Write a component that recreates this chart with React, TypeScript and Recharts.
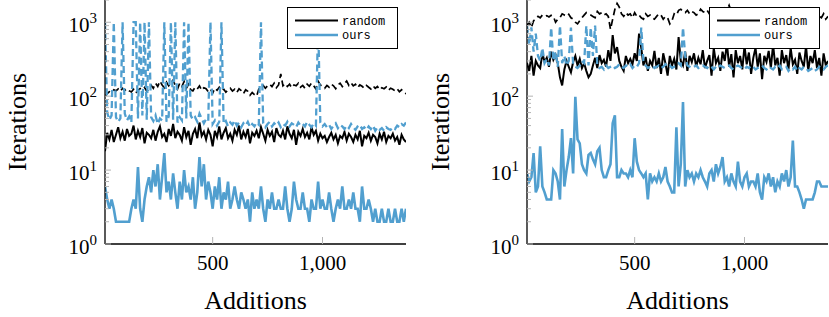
import React from 'react';
import { LineChart, Line, XAxis, YAxis, Legend } from 'recharts';

const additions = [
    10, 20, 30, 40, 50, 60, 70, 80, 90, 100,
    110, 120, 130, 140, 150, 160, 170, 180, 190, 200,
    210, 220, 230, 240, 250, 260, 270, 280, 290, 300,
    310, 320, 330, 340, 350, 360, 370, 380, 390, 400,
    410, 420, 430, 440, 450, 460, 470, 480, 490, 500,
    510, 520, 530, 540, 550, 560, 570, 580, 590, 600,
    610, 620, 630, 640, 650, 660, 670, 680, 690, 700,
    710, 720, 730, 740, 750, 760, 770, 780, 790, 800,
    810, 820, 830, 840, 850, 860, 870, 880, 890, 900,
    910, 920, 930, 940, 950, 960, 970, 980, 990, 1000,
    1010, 1020, 1030, 1040, 1050, 1060, 1070, 1080, 1090, 1100,
    1110, 1120, 1130, 1140, 1150, 1160, 1170, 1180, 1190, 1200,
    1210, 1220, 1230, 1240, 1250, 1260, 1270, 1280, 1290, 1300,
    1310, 1320, 1330, 1340, 1350, 1360, 1370, 1380
];

// left plot
const leftRandom = [
    18, 32, 26, 35, 24, 30, 38, 27, 33, 25,
    36, 29, 31, 40, 26, 34, 28, 37, 23, 32,
    30, 27, 35, 25, 33, 39, 28, 31, 24, 36,
    29, 42, 27, 33, 30, 25, 38, 28, 34, 22,
    31, 36, 27, 44, 29, 33, 26, 35, 30, 21,
    34, 28, 39, 26, 32, 37, 27, 31, 25, 35,
    30, 40, 26, 33, 28, 36, 23, 32, 29, 34,
    27, 38, 31, 25, 35, 29, 33, 24, 37, 30,
    28, 34, 26, 39, 31, 27, 35, 22, 33, 29,
    36, 28, 32, 26, 38, 30, 34, 25, 31, 27,
    29, 24, 28, 32, 26, 30, 23, 29, 27, 33,
    25, 31, 28, 24, 30, 26, 34, 21, 29, 27,
    32, 25, 30, 28, 23, 31, 26, 33, 24, 29,
    27, 31, 25, 28, 22, 30, 26, 24
];
const leftRandomMax = [
    100, 108, 115, 112, 122, 118, 125, 116, 128, 120,
    126, 118, 114, 124, 110, 120, 127, 122, 131, 117,
    125, 140, 128, 150, 135, 160, 142, 130, 155, 138,
    148, 165, 140, 125, 150, 135, 158, 128, 145, 122,
    118, 132, 125, 138, 120, 130, 126, 115, 124, 110,
    128, 120, 132, 118, 125, 113, 122, 128, 117, 124,
    112, 126, 119, 108, 122, 116, 103, 112, 105, 100,
    125, 132, 140, 128, 138, 145, 135, 150, 130, 142,
    200, 138, 148, 135, 145, 130, 142, 138, 150, 132,
    140, 128, 145, 136, 150, 138, 125, 160, 142, 135,
    128, 140, 132, 145, 138, 126, 142, 150, 135, 148,
    160, 140, 152, 138, 145, 130, 142, 136, 128, 140,
    132, 125, 138, 128, 135, 122, 130, 126, 133, 120,
    128, 124, 118, 126, 115, 122, 112, 108
];
const leftOurs = [
    6, 4, 3, 4, 3, 2, 2, 2, 2, 2,
    2, 2, 3, 4, 3, 11, 3, 2, 4, 6,
    8, 5, 10, 6, 12, 4, 8, 17, 5, 7,
    4, 9, 5, 3, 7, 4, 10, 5, 6, 4,
    8, 3, 5, 15, 6, 12, 4, 7, 5, 3,
    6, 4, 8, 3, 5, 4, 7, 3, 4, 6,
    4, 3, 5, 4, 3, 4, 2, 5, 3, 4,
    3, 6, 3, 2, 4, 3, 5, 3, 3, 4,
    3, 3, 6, 3, 2, 3, 7, 4, 3, 3,
    5, 3, 3, 2, 4, 3, 3, 7, 3, 4,
    3, 3, 5, 3, 2, 3, 4, 3, 6, 3,
    3, 4, 3, 5, 3, 3, 2, 6, 3, 3,
    4, 3, 2, 3, 2, 2, 3, 2, 2, 3,
    2, 2, 3, 2, 2, 3, 2, 3
];
const leftOursMax = [
    1000, 60, 48, 55, 1000, 52, 45, 50, 1000, 58,
    47, 53, 44, 1000, 1000, 50, 1000, 55, 1000, 48,
    1000, 52, 46, 55, 42, 50, 47, 1000, 45, 53,
    1000, 48, 1000, 44, 52, 47, 1000, 50, 1000, 55,
    48, 52, 45, 58, 50, 43, 49, 46, 1000, 42,
    47, 40, 45, 1000, 42, 46, 39, 44, 41, 47,
    40, 44, 38, 43, 40, 45, 38, 42, 39, 44,
    41, 1000, 43, 38, 42, 45, 39, 43, 40, 44,
    38, 42, 40, 45, 39, 43, 41, 38, 44, 40,
    42, 39, 45, 41, 38, 43, 40, 1000, 44, 39,
    42, 38, 41, 36, 40, 43, 37, 41, 39, 36,
    40, 37, 42, 38, 35, 39, 41, 36, 38, 35,
    39, 36, 40, 34, 38, 35, 37, 34, 38, 36,
    35, 38, 36, 40, 38, 42, 40, 44
];

// right plot
const rightRandom = [
    280, 220, 350, 190, 300, 260, 240, 380, 290, 330,
    250, 400, 310, 360, 280, 180, 140, 230, 300, 250,
    210, 290, 350, 260, 320, 240, 280, 220, 180, 200,
    260, 330, 240, 360, 280, 310, 250, 420, 300, 670,
    380, 460, 300, 250, 220, 350, 280, 320, 270, 380,
    300, 700, 450, 260, 340, 220, 300, 260, 410, 240,
    330, 200, 380, 280, 190, 350, 260, 320, 230, 630,
    300, 260, 400, 220, 350, 290, 380, 250, 330, 270,
    420, 240, 300, 360, 190, 450, 280, 330, 220, 400,
    300, 520, 250, 370, 180, 420, 280, 350, 230, 480,
    270, 390, 200, 330, 450, 250, 380, 170, 350, 290,
    410, 240, 500, 260, 330, 190, 420, 280, 360, 230,
    450, 270, 310, 200, 390, 300, 250, 480, 220, 350,
    280, 420, 240, 330, 190, 380, 260, 300
];
const rightRandomMax = [
    900, 1000, 850, 1050, 1100, 1200, 1150, 1250, 1200, 1230,
    1180, 1240, 1200, 1000, 1100, 1150, 1300, 1250, 1200, 1280,
    1150, 1100, 1000, 950, 1050, 1150, 1250, 1350, 1300, 1250,
    1200, 1150, 1400, 1300, 1350, 1250, 1300, 1200, 800, 1100,
    1500, 1800, 1600, 1300, 1200, 1350, 1250, 1300, 1150, 1350,
    1200, 1250, 1150, 1100, 1300, 1200, 1250, 1150, 1100, 1200,
    1300, 1250, 1100, 1200, 1150, 950, 1050, 1300, 1250, 1450,
    1500, 1400, 1350, 1450, 1300, 1400, 1350, 1250, 1300, 1500,
    1400, 1350, 1450, 1300, 1400, 1350, 1450, 1500, 1400, 1350,
    1550, 1450, 1700, 1400, 1350, 1300, 1400, 1250, 1350, 1300,
    1250, 1400, 1300, 1200, 1350, 1250, 1300, 1200, 1350, 1250,
    1300, 1200, 1250, 1150, 1300, 1200, 1250, 1150, 1200, 1300,
    1250, 1150, 1300, 1200, 1100, 1250, 1200, 1150, 1300, 1200,
    1150, 1250, 1100, 1200, 1150, 1300, 1100, 1200
];
const rightOurs = [
    9, 7, 8, 17, 5, 6, 21, 6, 5, 4,
    4, 4, 10, 9, 7, 4, 36, 6, 10, 15,
    27, 9, 98, 26, 23, 12, 10, 9, 16, 17,
    14, 12, 18, 20, 10, 8, 8, 10, 12, 43,
    55, 8, 8, 10, 9, 9, 8, 10, 8, 27,
    13, 10, 9, 8, 9, 4, 9, 7, 8, 7,
    9, 7, 8, 11, 7, 6, 5, 5, 38, 6,
    12, 83, 6, 10, 8, 9, 7, 9, 8, 10,
    8, 7, 6, 9, 10, 7, 12, 9, 11, 15,
    7, 8, 6, 9, 7, 6, 13, 7, 6, 8,
    9, 6, 7, 7, 6, 9, 5, 4, 8, 7,
    9, 6, 8, 5, 7, 6, 9, 7, 10, 6,
    8, 25, 6, 6, 5, 4, 3, 4, 4, 4,
    4, 5, 7, 7, 6, 6, 6, 6
];
const rightOursMax = [
    900, 500, 850, 400, 700, 350, 300, 450, 280, 320,
    260, 850, 300, 400, 250, 900, 280, 350, 260, 300,
    850, 270, 250, 240, 260, 300, 280, 900, 260, 850,
    350, 900, 260, 240, 250, 230, 260, 240, 250, 260,
    240, 250, 270, 250, 240, 260, 250, 270, 240, 260,
    250, 280, 850, 300, 260, 240, 250, 260, 240, 250,
    260, 240, 250, 270, 250, 260, 240, 250, 260, 280,
    260, 850, 350, 260, 250, 240, 250, 260, 240, 250,
    260, 250, 240, 260, 250, 230, 250, 240, 260, 250,
    240, 250, 260, 240, 230, 250, 260, 250, 240, 230,
    250, 240, 260, 250, 230, 240, 250, 260, 240, 230,
    250, 240, 230, 250, 240, 260, 230, 240, 250, 220,
    240, 230, 250, 220, 240, 230, 250, 240, 220, 230,
    240, 220, 230, 250, 240, 230, 250, 260
];

const xTicks = [500, 1000];
const yTicks = [
    1, 2, 3, 4, 5, 6, 7, 8, 9,
    10, 20, 30, 40, 50, 60, 70, 80, 90,
    100, 200, 300, 400, 500, 600, 700, 800, 900,
    1000, 2000
];

const BLUE = '#519fcf';
const TICK_GRAY = '#b4b4b4';
const SERIF = '"Liberation Serif", "Times New Roman", serif';
const MONO = '"Liberation Mono", "DejaVu Sans Mono", monospace';

const buildRows = (rs: number[], rd: number[], os: number[], od: number[]) =>
    additions.map((x, i) => ({ x, rs: rs[i], rd: rd[i], os: os[i], od: od[i] }));

const leftRows = buildRows(leftRandom, leftRandomMax, leftOurs, leftOursMax);
const rightRows = buildRows(rightRandom, rightRandomMax, rightOurs, rightOursMax);

const isDecade = (v: number) => Math.abs(Math.log10(v) - Math.round(Math.log10(v))) < 1e-9;

const LeftTick = (props: any) => {
    const { x, y, payload } = props;
    const v = payload.value;
    const major = isDecade(v);
    return (
        <g>
            <line x1={x} x2={x + (major ? 6 : 4)} y1={y} y2={y} stroke={TICK_GRAY} strokeWidth={1} />
            {major && (
                <text x={x - 8} y={y + 10} textAnchor="end" fontFamily={SERIF} fontSize={21} fill="#000">
                    10<tspan dy={-9} fontSize={15}>{Math.round(Math.log10(v))}</tspan>
                </text>
            )}
        </g>
    );
};

const RightTick = (props: any) => {
    const { x, y, payload } = props;
    const major = isDecade(payload.value);
    return <line x1={x} x2={x - (major ? 6 : 4)} y1={y} y2={y} stroke={TICK_GRAY} strokeWidth={1} />;
};

const BottomTick = (props: any) => {
    const { x, y, payload } = props;
    return (
        <g>
            <line x1={x} x2={x} y1={y} y2={y - 7} stroke={TICK_GRAY} strokeWidth={1} />
            <text x={x} y={y + 26} textAnchor="middle" fontFamily={SERIF} fontSize={21} fill="#000">
                {payload.value.toLocaleString('en-US')}
            </text>
        </g>
    );
};

const TopTick = (props: any) => {
    const { x, y } = props;
    return <line x1={x} x2={x} y1={y} y2={y + 7} stroke={TICK_GRAY} strokeWidth={1} />;
};

const LegendBox = () => (
    <svg width={111} height={42} style={{ display: 'block' }}>
        <rect x={0.5} y={0.5} width={110} height={41} fill="#fff" stroke="#000" strokeWidth={1} />
        <line x1={8} x2={51} y1={13.5} y2={13.5} stroke="#000" strokeWidth={2} />
        <text x={55} y={17.5} fontFamily={MONO} fontSize={12} fill="#000">random</text>
        <line x1={8} x2={51} y1={28} y2={28} stroke={BLUE} strokeWidth={2.6} />
        <text x={55} y={32} fontFamily={MONO} fontSize={12} fill="#000">ours</text>
    </svg>
);

interface PanelProps {
    rows: any[];
    width: number;
    yAxisWidth: number;
    rightMargin: number;
    labelOffset: number;
    legendLeft: number;
}

const Panel: React.FC<PanelProps> = ({ rows, width, yAxisWidth, rightMargin, labelOffset, legendLeft }) => (
    <LineChart width={width} height={317} data={rows} margin={{ top: 0, right: rightMargin, left: 0, bottom: 0 }}>
        <XAxis
            xAxisId="b"
            dataKey="x"
            type="number"
            domain={[10, 1380]}
            allowDataOverflow
            ticks={xTicks}
            interval={0}
            height={73}
            tickSize={0}
            tickMargin={0}
            tickLine={false}
            tick={(p: any) => <BottomTick {...p} />}
            axisLine={{ stroke: '#000', strokeWidth: 1.3 }}
            label={{
                value: 'Additions',
                position: 'insideBottom',
                offset: 8,
                style: { fontFamily: SERIF, fontSize: 26, fill: '#000' }
            }}
        />
        <XAxis
            xAxisId="t"
            orientation="top"
            dataKey="x"
            type="number"
            domain={[10, 1380]}
            allowDataOverflow
            ticks={xTicks}
            interval={0}
            height={0}
            tickSize={0}
            tickMargin={0}
            tickLine={false}
            tick={(p: any) => <TopTick {...p} />}
            axisLine={{ stroke: '#000', strokeWidth: 1.3 }}
        />
        <YAxis
            yAxisId="l"
            scale="log"
            domain={[1, 2000]}
            allowDataOverflow
            ticks={yTicks}
            interval={0}
            width={yAxisWidth}
            tickSize={0}
            tickMargin={0}
            tickLine={false}
            tick={(p: any) => <LeftTick {...p} />}
            axisLine={{ stroke: '#000', strokeWidth: 1.3 }}
            label={{
                value: 'Iterations',
                angle: -90,
                position: 'insideLeft',
                offset: labelOffset,
                style: { textAnchor: 'middle', fontFamily: SERIF, fontSize: 26, fill: '#000' }
            }}
        />
        <YAxis
            yAxisId="r"
            orientation="right"
            scale="log"
            domain={[1, 2000]}
            allowDataOverflow
            ticks={yTicks}
            interval={0}
            width={0}
            tickSize={0}
            tickMargin={0}
            tickLine={false}
            tick={(p: any) => <RightTick {...p} />}
            axisLine={{ stroke: '#000', strokeWidth: 1.3 }}
        />

        <Line xAxisId="b" yAxisId="l" dataKey="rs" stroke="#000" strokeWidth={2} dot={false} activeDot={false} isAnimationActive={false} />
        <Line xAxisId="b" yAxisId="l" dataKey="os" stroke={BLUE} strokeWidth={2.6} dot={false} activeDot={false} isAnimationActive={false} />
        <Line xAxisId="b" yAxisId="l" dataKey="rd" stroke="#000" strokeWidth={1.7} strokeDasharray="7 4" dot={false} activeDot={false} isAnimationActive={false} />
        <Line xAxisId="b" yAxisId="l" dataKey="od" stroke={BLUE} strokeWidth={2.3} strokeDasharray="7 4" dot={false} activeDot={false} isAnimationActive={false} />

        <Legend
            layout="vertical"
            align="center"
            verticalAlign="middle"
            content={() => <LegendBox />}
            wrapperStyle={{ left: legendLeft, top: 7, width: 111, height: 42 }}
        />
    </LineChart>
);

export default function App() {
    return (
        <div style={{ position: 'absolute', left: 0, top: 0, width: 829, height: 317, background: '#fff', overflow: 'hidden' }}>
            <div style={{ position: 'absolute', left: 0, top: 0 }}>
                <Panel rows={leftRows} width={420} yAxisWidth={105} rightMargin={14} labelOffset={17} legendLeft={287} />
            </div>
            <div style={{ position: 'absolute', left: 420, top: 0 }}>
                <Panel rows={rightRows} width={409} yAxisWidth={107} rightMargin={1} labelOffset={20} legendLeft={289} />
            </div>
        </div>
    );
}
